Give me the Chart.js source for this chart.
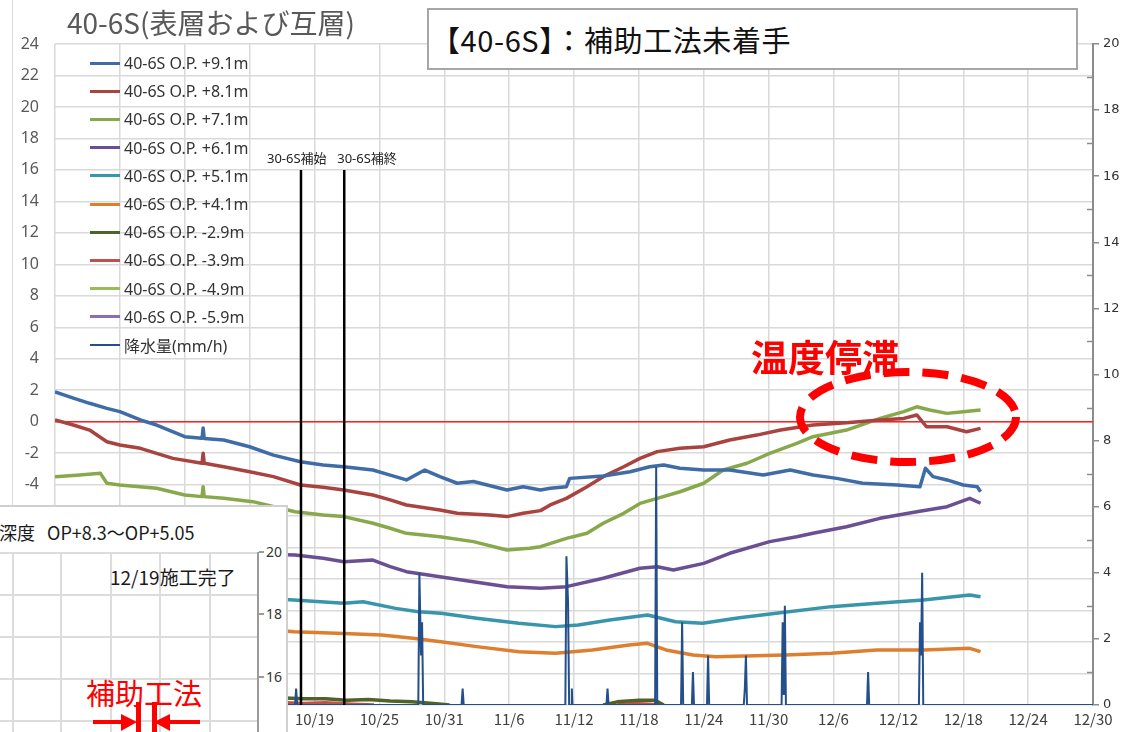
<!DOCTYPE html>
<html lang="ja">
<head>
<meta charset="utf-8">
<title>40-6S(表層および互層)</title>
<script src="https://cdn.jsdelivr.net/npm/chart.js@4.4.1/dist/chart.umd.min.js"></script>
<style>
  html, body { margin: 0; padding: 0; background: #fff; }
  body { width: 1124px; height: 732px; overflow: hidden; position: relative;
         font-family: "Noto Sans", "Noto Sans CJK JP", sans-serif; }
  #wrap { position: absolute; left: 0; top: 0; width: 1124px; height: 732px; }
  .abs { position: absolute; white-space: nowrap; }
  #legend { position: absolute; left: 90px; top: 49px; }
  #legend .row { height: 28.2px; display: flex; align-items: center; font-size: 16px; color: #333; }
  #legend .swatch { width: 30px; height: 3px; margin-right: 4px; }
  .evlabel { font-size: 13px; color: #222; font-family: "Noto Sans", "Noto Sans CJK JP", sans-serif; }
</style>
</head>
<body>
<div id="wrap"><canvas id="c"></canvas></div>

<script>
// ---- time axis: day 0 = 9/25, one tick every 6 days ----
const xTickLabels = ['9/25', '10/1', '10/7', '10/13', '10/19', '10/25', '10/31', '11/6', '11/12',
                     '11/18', '11/24', '11/30', '12/6', '12/12', '12/18', '12/24', '12/30'];
const dayMax = 96;

// ---- ground temperature (°C), [day, value] ----
const opP91 = [[0,1.9],[1.7,1.5],[3.2,1.17],[4.8,0.85],[6,0.64],[7.9,0.11],[9.4,-0.21],[12,-0.95],
  [13.6,-1.05],[13.7,-0.4],[13.8,-1.06],[15.6,-1.16],[18,-1.59],[20.2,-2.12],[22.7,-2.54],[24.8,-2.75],
  [26.7,-2.86],[29.4,-3.07],[31,-3.39],[32.5,-3.7],[34.2,-3.07],[35.6,-3.49],[37.2,-3.91],[38.7,-3.8],
  [41.8,-4.34],[43.3,-4.13],[44.9,-4.34],[45.8,-4.23],[47.3,-4.13],[47.6,-3.6],[50.7,-3.45],[53.2,-3.18],
  [55,-2.86],[56.3,-2.75],[57.8,-2.96],[60,-3.07],[62.4,-3.07],[65.5,-3.39],[68,-3.07],[70.1,-3.39],
  [72.3,-3.6],[74.7,-3.91],[77.9,-4.02],[80,-4.13],[80.5,-2.96],[81.2,-3.49],[82.5,-3.7],[84,-4.02],
  [85.3,-4.13],[85.6,-4.45]];
const opP81 = [[0,0.11],[1.7,-0.21],[3.2,-0.53],[4.8,-1.27],[6,-1.48],[7.9,-1.69],[10.9,-2.33],
  [13.6,-2.64],[13.7,-2.0],[13.8,-2.64],[15.6,-2.86],[18,-3.18],[20.2,-3.49],[22.7,-4.02],[24.8,-4.17],
  [26.7,-4.34],[29.4,-4.66],[31,-4.97],[32.5,-5.29],[35.6,-5.61],[37.2,-5.82],[40.2,-5.93],[41.8,-6.03],
  [43.3,-5.82],[44.9,-5.65],[45.8,-5.29],[47.3,-4.87],[49.2,-4.13],[50.7,-3.49],[52.6,-2.86],[54.1,-2.33],
  [55.7,-1.9],[57.8,-1.69],[60,-1.59],[62.4,-1.16],[64.9,-0.85],[67.1,-0.53],[70.1,-0.21],[73.2,-0.06],
  [76.3,0.11],[78.5,0.21],[79.7,0.43],[80.6,-0.32],[82.5,-0.32],[84.3,-0.64],[85.6,-0.42]];
const opP71 = [[0,-3.49],[2.3,-3.39],[4.2,-3.28],[4.8,-3.91],[6,-4.02],[9.4,-4.23],[12,-4.66],
  [13.6,-4.76],[13.7,-4.13],[13.8,-4.76],[15.6,-4.87],[18.3,-5.08],[22.2,-5.72],[24.8,-5.93],[26.7,-6.03],
  [29.4,-6.45],[31,-6.77],[32.5,-7.09],[35.6,-7.31],[38.7,-7.62],[41.8,-8.15],[43.9,-8.04],[44.9,-7.94],
  [47.3,-7.41],[49.2,-7.09],[50.7,-6.45],[52.6,-5.82],[54.1,-5.19],[55.7,-4.87],[57.8,-4.45],[60,-3.91],
  [61.8,-3.07],[64,-2.64],[66.1,-2.01],[68.6,-1.37],[70.1,-0.95],[73.2,-0.53],[76.3,0.21],[78.5,0.64],
  [79.7,0.95],[80.9,0.74],[82.5,0.53],[84,0.64],[85.6,0.74]];
const opP61 = [[21.3,-8.45],[22.2,-8.47],[24.8,-8.68],[26.7,-8.9],[29.4,-8.79],[31,-9.21],[32.5,-9.53],
  [35.6,-9.85],[38.7,-10.17],[41.8,-10.48],[44.9,-10.58],[47.3,-10.48],[50.7,-9.95],[54.1,-9.31],
  [55.7,-9.21],[57.2,-9.42],[60,-9.0],[62.4,-8.36],[66.1,-7.62],[68.6,-7.31],[70.1,-7.09],[73.2,-6.67],
  [76.3,-6.14],[79.7,-5.72],[82.5,-5.4],[84.6,-4.87],[85.6,-5.18]];
const opP51 = [[21.3,-11.3],[22.1,-11.33],[26.7,-11.54],[28.5,-11.44],[31.5,-11.86],[33.6,-12.07],
  [35.7,-12.17],[39,-12.49],[42.9,-12.81],[46.3,-13.02],[48.4,-12.92],[51.3,-12.6],[54.8,-12.28],
  [57.4,-12.71],[59.9,-12.81],[63.3,-12.45],[66.7,-12.17],[71.8,-11.75],[76,-11.54],[80.3,-11.33],
  [84.6,-11.01],[85.6,-11.12]];
const opP41 = [[21.3,-13.3],[22.1,-13.34],[26.7,-13.45],[30.2,-13.55],[33.1,-13.76],[35.7,-13.98],
  [39,-14.29],[42.9,-14.61],[46.3,-14.71],[49.7,-14.5],[53.1,-14.19],[54.8,-14.08],[56.5,-14.5],
  [59,-14.82],[61.1,-14.93],[67.5,-14.82],[71.8,-14.71],[76,-14.5],[80.3,-14.5],[84.6,-14.4],[85.6,-14.61]];
const opM29 = [[21.3,-17.55],[23,-17.6],[25,-17.6],[27,-17.7],[29,-17.65],[31,-17.75],[33,-17.8],
  [35,-17.9],[36.5,-18.0],[36.6,null],[50.7,-18.0],[52,-17.8],[54,-17.7],[55.5,-17.7],[56.3,-18.0]];
const opM39 = [[21.3,-17.85],[23,-17.9],[25,-17.85],[27.5,-17.95],[29.5,-18.0],[29.6,null],
  [52,-18.0],[53.5,-17.9],[55,-17.95],[55.8,-18.0]];
const opM49 = [];
const opM59 = [];

// ---- rainfall (mm/h), [day, value] ----
const rainfall = [[21.3,0],[22.2,0],[22.3,0.5],[22.4,0],
  [33.6,0],[33.7,4.0],[33.85,1.5],[33.95,2.5],[34.05,0],
  [37.6,0],[37.7,0.5],[37.8,0],
  [47.2,0],[47.3,4.5],[47.45,3.1],[47.55,0],[47.75,0],[47.8,0.5],[47.85,0],
  [51.0,0],[51.1,0.5],[51.2,0],
  [55.5,0],[55.6,7.2],[55.7,0],
  [57.9,0],[58.0,2.5],[58.1,0],
  [58.9,0],[59.0,1.0],[59.1,0],
  [60.3,0],[60.4,1.5],[60.5,0],
  [63.7,0],[63.8,0.5],[63.9,1.5],[64.0,0],
  [67.2,0],[67.3,2.5],[67.4,0.3],[67.5,3.0],[67.6,0],
  [75.1,0],[75.2,1.0],[75.3,0],
  [79.9,0],[80.0,2.5],[80.1,1.5],[80.2,4.0],[80.3,0],
  [96,0]];

// ---- works on the neighbouring section ----
const eventDays = [22.75, 26.75];
const eventLabels = ['30-6S補始', '30-6S補終'];
const eventTop = 16;

const seriesNames = ['40-6S O.P. +9.1m', '40-6S O.P. +8.1m', '40-6S O.P. +7.1m', '40-6S O.P. +6.1m',
  '40-6S O.P. +5.1m', '40-6S O.P. +4.1m', '40-6S O.P. -2.9m', '40-6S O.P. -3.9m',
  '40-6S O.P. -4.9m', '40-6S O.P. -5.9m'];
const seriesData = [opP91, opP81, opP71, opP61, opP51, opP41, opM29, opM39, opM49, opM59];
const seriesColors = ['#3f6ca6', '#a8433f', '#88a94b', '#6a4f93', '#3995ab', '#dd7f2f',
  '#4f6228', '#c0504d', '#9bbb59', '#8a6db3'];
const rainName = '降水量(mm/h)';
const rainColor = '#244f8a';

const pts = arr => arr.map(([x, y]) => ({ x, y }));

const datasets = [];
eventDays.forEach((d, i) => {
  datasets.push({ label: eventLabels[i], data: pts([[d, eventTop], [d, -18]]), yAxisID: 'y',
    borderColor: '#000', borderWidth: 2.5, pointRadius: 0, order: 0 });
});
datasets.push({ label: rainName, data: pts(rainfall), yAxisID: 'y1', borderColor: rainColor,
  borderWidth: 2, pointRadius: 0, order: 1 });
seriesData.forEach((d, i) => {
  datasets.push({ label: seriesNames[i], data: pts(d), yAxisID: 'y', borderColor: seriesColors[i],
    borderWidth: 3.5, pointRadius: 0, borderJoinStyle: 'round', order: 2 });
});
datasets.push({ label: 'zero', data: pts([[0, 0], [dayMax, 0]]), yAxisID: 'y', borderColor: '#ff2020',
  borderWidth: 1.5, pointRadius: 0, order: 3 });

// short inward minor ticks on the rainfall axis
const minorTicks = {
  id: 'minorTicks',
  afterDraw(chart) {
    const s = chart.scales.y1, ctx = chart.ctx;
    ctx.save();
    ctx.strokeStyle = '#8c8c8c';
    ctx.lineWidth = 1.5;
    for (let v = 1; v < 20; v += 2) {
      const y = Math.round(s.getPixelForValue(v)) + 0.5;
      ctx.beginPath(); ctx.moveTo(s.left - 6, y); ctx.lineTo(s.left, y); ctx.stroke();
    }
    ctx.restore();
  }
};

const gridColor = '#d9d9d9';
const chart = new Chart(document.getElementById('c'), {
  type: 'line',
  data: { datasets },
  plugins: [minorTicks],
  options: {
    responsive: true, maintainAspectRatio: false, animation: false,
    layout: { padding: { top: 44, left: 0, right: 0, bottom: 0 } },
    plugins: { legend: { display: false }, tooltip: { enabled: false } },
    elements: { line: { tension: 0 } },
    scales: {
      x: {
        type: 'linear', min: 0, max: dayMax,
        ticks: { stepSize: 6, autoSkip: false, maxRotation: 0, padding: 5, color: '#404040',
          font: { family: '"Noto Sans CJK JP", "Noto Sans", sans-serif', size: 15 },
          callback: v => xTickLabels[Math.round(v / 6)] },
        grid: { color: gridColor, lineWidth: 1.5, drawTicks: false },
        border: { display: false },
        afterFit: s => { s.height = 27; }
      },
      y: {
        position: 'left', min: -18, max: 24,
        ticks: { stepSize: 2, padding: 16, color: '#595959',
          font: { family: '"Noto Sans", sans-serif', size: 16 } },
        grid: { color: gridColor, lineWidth: 1.5, drawTicks: false },
        border: { display: false },
        afterFit: s => { s.width = 55; }
      },
      y1: {
        position: 'right', min: 0, max: 20,
        ticks: { stepSize: 2, autoSkip: false, padding: 4, color: '#333',
          font: { family: '"DejaVu Sans", sans-serif', size: 13 } },
        grid: { drawOnChartArea: false, color: '#8c8c8c', lineWidth: 1.5, tickLength: 6 },
        border: { color: '#8c8c8c', width: 2 },
        afterFit: s => { s.width = 31; }
      }
    }
  }
});

// event labels above the vertical lines
eventDays.forEach((d, i) => {
  const el = document.createElement('div');
  el.className = 'abs evlabel';
  el.textContent = eventLabels[i];
  const px = chart.scales.x.getPixelForValue(d);
  const py = chart.scales.y.getPixelForValue(eventTop);
  el.style.top = (py - 22) + 'px';
  el.style.left = (i === 0 ? px - 34 : px - 7) + 'px';
  document.body.appendChild(el);
});
</script>

<!-- chart frame edge -->
<div class="abs" style="left:12px;top:0;width:1px;height:505px;background:#d9d9d9;"></div>

<!-- chart title -->
<div class="abs" style="left:67px;top:5px;font-size:28px;line-height:34px;color:#595959;font-family:'Noto Sans CJK JP',sans-serif;">40-6S(表層および互層)</div>

<!-- status box -->
<div class="abs" style="left:427px;top:8px;width:651px;height:62px;box-sizing:border-box;border:2px solid #a6a6a6;background:#fff;"></div>
<div class="abs" style="left:431px;top:20px;font-size:29px;line-height:38px;letter-spacing:0.6px;color:#111;font-family:'Noto Sans CJK JP',sans-serif;">【40-6S】：補助工法未着手</div>

<!-- legend -->
<div id="legend"></div>
<script>
(function () {
  const lg = document.getElementById('legend');
  const names = seriesNames.concat([rainName]);
  const cols = seriesColors.concat([rainColor]);
  names.forEach((n, i) => {
    const row = document.createElement('div');
    row.className = 'row';
    const sw = document.createElement('span');
    sw.className = 'swatch';
    sw.style.background = cols[i];
    if (i === names.length - 1) sw.style.height = '2px';
    const tx = document.createElement('span');
    tx.textContent = n;
    row.appendChild(sw); row.appendChild(tx);
    lg.appendChild(row);
  });
})();
</script>

<!-- callout -->
<div class="abs" style="left:751px;top:334px;font-size:37px;line-height:44px;font-weight:700;color:#ff0000;font-family:'Noto Sans CJK JP',sans-serif;">温度停滞</div>

<!-- inset panel: treatment depth -->
<div class="abs" style="left:-4px;top:505px;width:292px;height:240px;box-sizing:border-box;border:2px solid #d0d0d0;background:#fff;"></div>
<div id="insetGrid"></div>
<script>
(function () {
  const g = document.getElementById('insetGrid');
  [552, 594, 636, 678, 720].forEach(y => {
    const d = document.createElement('div');
    d.className = 'abs';
    d.style.cssText = `left:0;top:${y}px;width:258px;height:1.5px;background:#dcdcdc;`;
    g.appendChild(d);
  });
  [12, 60, 110, 159, 209].forEach(x => {
    const d = document.createElement('div');
    d.className = 'abs';
    d.style.cssText = `left:${x}px;top:552px;width:1.5px;height:180px;background:#dcdcdc;`;
    g.appendChild(d);
  });
  const ax = document.createElement('div');
  ax.className = 'abs';
  ax.style.cssText = 'left:257px;top:552px;width:2px;height:180px;background:#9a9a9a;';
  g.appendChild(ax);
  [[552, '20'], [614, '18'], [677, '16']].forEach(([y, t]) => {
    const tk = document.createElement('div');
    tk.className = 'abs';
    tk.style.cssText = `left:259px;top:${y - 1}px;width:5px;height:1.5px;background:#9a9a9a;`;
    g.appendChild(tk);
    const lb = document.createElement('div');
    lb.className = 'abs';
    lb.style.cssText = `left:266px;top:${y - 10}px;font-size:14px;line-height:20px;color:#333;`;
    lb.textContent = t;
    g.appendChild(lb);
  });
})();
</script>
<div class="abs" style="left:-1px;top:520px;font-size:18px;line-height:24px;color:#1a1a1a;font-family:'Noto Sans CJK JP',sans-serif;">深度&nbsp;&nbsp;&nbsp;OP+8.3～OP+5.05</div>
<div class="abs" style="left:110px;top:564px;font-size:19px;line-height:26px;color:#1a1a1a;font-family:'Noto Sans CJK JP',sans-serif;">12/19施工完了</div>
<div class="abs" style="left:86px;top:674px;font-size:29px;line-height:36px;color:#ff0000;font-family:'Noto Sans CJK JP',sans-serif;">補助工法</div>

<svg class="abs" width="1124" height="732" style="left:0;top:0;pointer-events:none;">
  <ellipse cx="908" cy="417" rx="108" ry="45" fill="none" stroke="#ff0000" stroke-width="8" stroke-dasharray="26 13"/>
  <line x1="93" y1="722" x2="124" y2="722" stroke="#ff0000" stroke-width="4"/>
  <polygon points="121,714 137,722 121,731" fill="#ff0000"/>
  <rect x="136" y="702" width="5" height="30" fill="#ff0000"/>
  <rect x="152" y="702" width="5" height="30" fill="#ff0000"/>
  <polygon points="170,714 154,722 170,731" fill="#ff0000"/>
  <line x1="168" y1="722" x2="200" y2="722" stroke="#ff0000" stroke-width="4"/>
</svg>
</body>
</html>
